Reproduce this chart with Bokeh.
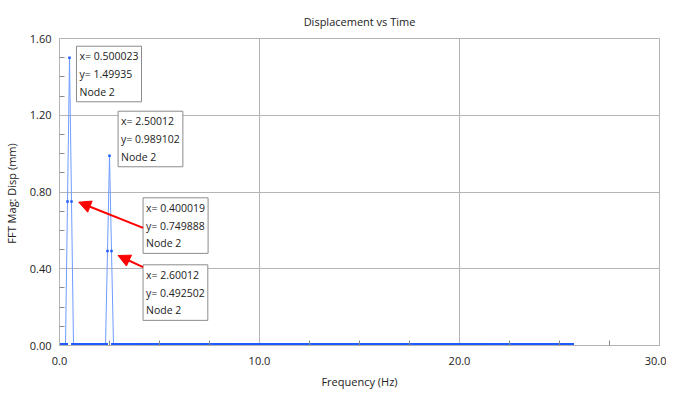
import numpy as np
from bokeh.plotting import figure
from bokeh.models import (FixedTicker, NumeralTickFormatter, Range1d, Label, Arrow, NormalHead)
from bokeh.embed import file_html
from bokeh.resources import INLINE

# ---- data ----
freq_step = 0.1000046
n_points = 257
peak_freqs = [0.400019, 0.500023, 0.600028, 2.40012, 2.50012, 2.60012]
peak_mags = [0.749888, 1.49935, 0.749900, 0.492400, 0.989102, 0.492502]

freq = [round(i * freq_step, 6) for i in range(n_points)]
mag = [0.0] * n_points
for f, m in zip(peak_freqs, peak_mags):
    idx = int(round(f / freq_step))
    mag[idx] = m

# annotation data
ann_x = [0.500023, 2.50012, 0.400019, 2.60012]
ann_y = [1.49935, 0.989102, 0.749888, 0.492502]
ann_node = ["Node 2", "Node 2", "Node 2", "Node 2"]

x_ticks = [0, 10, 20, 30]
x_minor = [2.5, 5, 7.5, 12.5, 15, 17.5, 22.5, 25, 27.5]
y_ticks = [0, 0.4, 0.8, 1.2, 1.6]
y_minor = [0.1, 0.2, 0.3, 0.5, 0.6, 0.7, 0.9, 1.0, 1.1, 1.3, 1.4, 1.5]

FONT = "Open Sans"
TXT = "#222222"
GRID = "#b4b4b4"

p = figure(width=666, height=394, output_backend="svg", toolbar_location=None,
           x_range=Range1d(0, 30), y_range=Range1d(0, 1.6),
           title="Displacement vs Time",
           min_border_left=58, min_border_right=7, min_border_top=38, min_border_bottom=49)
p.title.align = "center"
p.title.text_font = FONT
p.title.text_font_size = "11px"
p.title.text_font_style = "normal"
p.title.text_color = TXT
p.title.standoff = 20

p.background_fill_color = "white"
p.border_fill_color = "white"
p.outline_line_color = GRID
p.outline_line_width = 1

p.xaxis.ticker = FixedTicker(ticks=x_ticks, minor_ticks=x_minor)
p.yaxis.ticker = FixedTicker(ticks=y_ticks, minor_ticks=y_minor)
p.xaxis.formatter = NumeralTickFormatter(format="0.0")
p.yaxis.formatter = NumeralTickFormatter(format="0.00")
p.xaxis.axis_label = "Frequency (Hz)"
p.yaxis.axis_label = "FFT Mag: Disp  (mm)"
for ax in (p.xaxis, p.yaxis):
    ax.axis_line_color = GRID
    ax.major_tick_in = 0
    ax.major_tick_out = 0
    ax.minor_tick_in = 5
    ax.minor_tick_out = 0
    ax.minor_tick_line_color = "#8a8a8a"
    ax.minor_tick_line_width = 1
    ax.major_label_text_font = FONT
    ax.major_label_text_font_size = "11px"
    ax.major_label_text_color = TXT
    ax.axis_label_text_font = FONT
    ax.axis_label_text_font_size = "11px"
    ax.axis_label_text_font_style = "normal"
    ax.axis_label_text_color = TXT
p.yaxis.major_label_standoff = 8
p.yaxis.axis_label_standoff = 8
p.xaxis.major_label_standoff = 11
p.xaxis.axis_label_standoff = 6

p.xgrid.ticker = FixedTicker(ticks=x_ticks)
p.ygrid.ticker = FixedTicker(ticks=y_ticks)
p.grid.grid_line_color = GRID
p.grid.grid_line_width = 1

# point markers: zero samples merge into a thick base line, peak samples are small dots
marker_size = [5 if m == 0 else 2.5 for m in mag]
p.line(freq, mag, line_color="#6f9bff", line_width=1)
p.scatter(freq, mag, marker="square", size=marker_size, fill_color="#1f5bff", line_color=None)

# pixel -> data conversion for annotation offsets
XPX = 601 / 30.0
YPX = 307 / 1.6
box_off = [(7, 11.6), (8.6, 44.5), (75.7, 3.8), (31.6, -13.8)]
for (xv, yv, nd, (dx, dy)) in zip(ann_x, ann_y, ann_node, box_off):
    txt = f"x= {xv:g}\ny= {yv:g}\n{nd}"
    p.add_layout(Label(x=xv + dx / XPX, y=yv + dy / YPX, text=txt, anchor="top_left",
                       text_font=FONT, text_font_size="10.5px", text_color=TXT,
                       text_line_height=1.27, padding=3,
                       background_fill_color="white", border_line_color="#8c8c8c",
                       border_line_width=1))

# arrows from boxes 3 and 4 to their points
arrow_specs = [(2, (75.7, -26.2), (11.3, -0.6)), (3, (31.6, -16.2), (6.6, -4.5))]
for i, (tx, ty), (hx, hy) in arrow_specs:
    p.add_layout(Arrow(end=NormalHead(size=12, fill_color="red", line_color="red"),
                       x_start=ann_x[i] + tx / XPX, y_start=ann_y[i] + ty / YPX,
                       x_end=ann_x[i] + hx / XPX, y_end=ann_y[i] + hy / YPX,
                       line_color="red", line_width=2))

open("out.html", "w").write(file_html(p, INLINE))
